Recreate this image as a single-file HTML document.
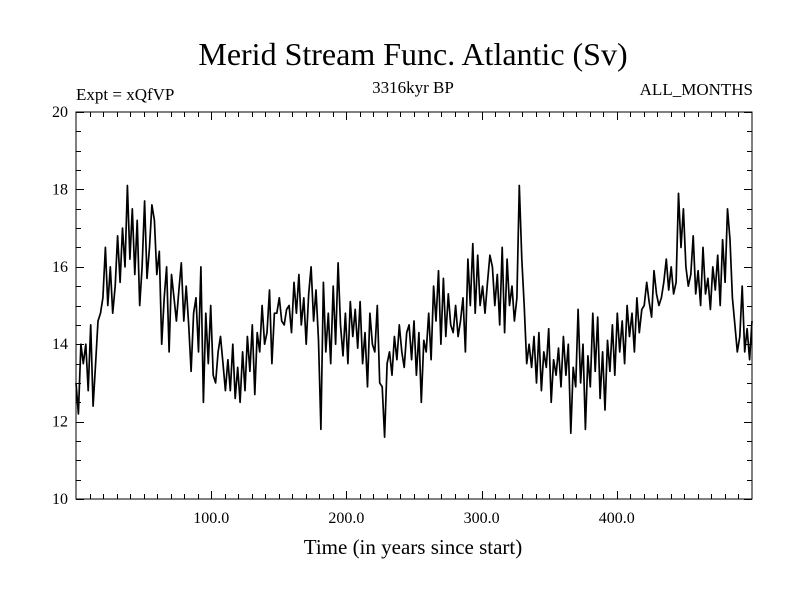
<!DOCTYPE html>
<html><head><meta charset="utf-8"><style>
body{margin:0;background:#fff}
svg{display:block;font-family:"Liberation Serif",serif}
</style></head><body>
<svg id="chart" width="800" height="600">
<text x="413" y="65" font-size="32" text-anchor="middle">Merid Stream Func. Atlantic (Sv)</text>
<text x="76" y="100" font-size="17">Expt = xQfVP</text>
<text x="413" y="93" font-size="17" text-anchor="middle">3316kyr BP</text>
<text x="753" y="95" font-size="17" text-anchor="end">ALL_MONTHS</text>
<text x="413" y="554" font-size="21" text-anchor="middle">Time (in years since start)</text>
<g id="axes"></g>
<path id="series" fill="none" stroke="#000" stroke-width="1.7" stroke-linejoin="round"></path>
<rect x="76" y="112" width="676" height="387" fill="none" stroke="#000" stroke-width="1"></rect>
</svg>
<script>
const values = [13.0,12.2,14.0,13.5,14.0,12.8,14.5,12.4,13.5,14.6,14.8,15.2,16.5,
15.0,16.0,14.8,15.5,16.8,15.6,17.0,16.0,18.1,
16.2,17.5,15.8,17.2,15.0,16.0,17.7,15.7,16.5,17.6,
17.2,15.8,16.4,14.0,15.2,16.0,13.8,15.8,15.2,14.6,15.4,16.1,14.6,
15.5,14.5,13.3,14.8,15.2,13.8,16.0,12.5,14.8,13.5,15.0,13.2,
13.0,13.8,14.2,13.5,12.8,13.6,12.8,14.0,12.6,13.4,12.5,
13.8,12.8,14.2,13.3,14.5,12.7,14.3,13.8,15.0,14.0,14.3,
15.4,13.5,14.8,14.8,15.2,14.6,14.5,14.9,15.0,14.3,15.6,
14.8,15.8,14.5,15.2,14.0,15.3,16.0,14.6,15.4,14.1,11.8,
15.6,13.8,14.8,13.5,15.5,14.0,16.1,14.5,13.7,14.8,13.5,
15.1,14.2,14.9,13.9,15.1,13.5,14.3,12.9,14.8,14.0,13.8,
15.0,13.0,12.9,11.6,13.5,13.8,13.2,14.2,13.6,14.5,13.8,
13.4,14.3,14.5,13.6,14.6,13.2,14.3,12.5,14.1,13.8,14.8,
13.6,15.5,14.6,15.9,14.0,15.7,14.2,15.3,14.5,14.3,15.0,
14.2,14.6,15.2,13.8,16.2,15.0,16.6,14.8,16.3,15.0,15.5,
14.8,15.6,16.3,16.0,15.0,15.8,14.5,16.5,14.3,16.2,15.0,
15.5,14.6,15.2,18.1,16.2,15.0,13.5,14.0,13.4,14.2,13.0,
14.3,12.8,13.8,13.4,14.4,12.5,13.6,13.2,13.9,12.9,14.2,
13.2,14.0,11.7,13.4,12.9,14.9,13.0,14.0,11.8,13.7,12.9,
14.8,13.3,14.7,12.6,13.8,12.3,14.1,13.3,14.5,13.2,14.8,
13.8,14.6,13.5,15.0,14.2,14.8,13.8,15.2,14.3,14.9,15.0,
15.6,15.1,14.7,15.9,15.3,15.0,15.2,15.6,16.2,15.4,16.0,
15.3,15.6,17.9,16.5,17.5,16.0,15.5,15.8,16.8,15.3,15.9,
15.0,16.5,15.3,15.7,14.9,16.0,15.4,16.3,15.0,16.7,15.6,
17.5,16.7,15.2,14.5,13.8,14.2,15.5,13.8,14.4,13.6,14.6];
const yTickLabels = [10,12,14,16,18,20];
const xTickLabels = [100,200,300,400];
const tStart = 0, tEnd = 500;

const X0=76,X1=752,Y0=499,Y1=112;
const xs = t => X0 + (t - tStart)/(tEnd - tStart)*(X1-X0);
const ys = v => Y0 - (v - 10)/10*(Y0-Y1);
const NS='http://www.w3.org/2000/svg';
const axes=document.getElementById('axes');
function line(x1,y1,x2,y2){const l=document.createElementNS(NS,'line');
l.setAttribute('x1',x1);l.setAttribute('y1',y1);l.setAttribute('x2',x2);l.setAttribute('y2',y2);
l.setAttribute('stroke','#000');l.setAttribute('stroke-width','1');


axes.appendChild(l);}
for(let v=10;v<=20;v+=0.5){const y=Math.round(ys(v))+0.5;const len=(v%2===0)?8:5;
line(X0,y,X0+len,y);line(X1,y,X1-len,y);}
for(let t=10;t<500;t+=10){const x=Math.round(xs(t))+0.5;const len=(t%100===0)?8:5;
line(x,Y0,x,Y0-len);line(x,Y1,x,Y1+len);}
yTickLabels.forEach(v=>{const tx=document.createElementNS(NS,'text');
tx.setAttribute('x',X0-8);tx.setAttribute('y',ys(v)+5);tx.setAttribute('text-anchor','end');tx.setAttribute('font-size','16');
tx.textContent=v;


axes.appendChild(tx);});
xTickLabels.forEach(t=>{const tx=document.createElementNS(NS,'text');
tx.setAttribute('x',xs(t));tx.setAttribute('y',Y0+24);tx.setAttribute('text-anchor','middle');tx.setAttribute('font-size','16');
tx.textContent=t.toFixed(1);


axes.appendChild(tx);});
const n=values.length;
let d='';
values.forEach((v,i)=>{const t=tStart+i*(tEnd-tStart)/(n-1);d+=(i?'L':'M')+xs(t).toFixed(1)+' '+ys(v).toFixed(1);});
document.getElementById('series').setAttribute('d',d);
</script>
</body></html>
